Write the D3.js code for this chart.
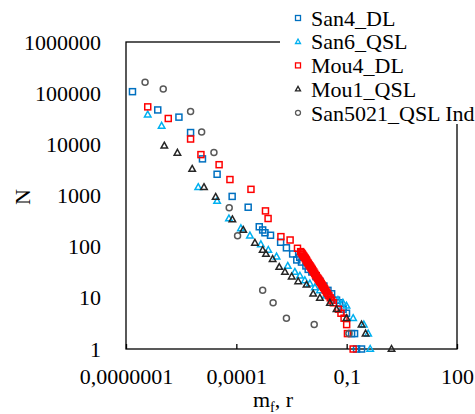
<!DOCTYPE html>
<meta charset="utf-8">
<style>
    body { margin: 0; background: #fff; }
    text { font-family: "Liberation Serif", "Times New Roman", serif; fill: #000; }
</style>
<body>
<svg width="475" height="414"></svg>
<script src="https://d3js.org/d3.v7.min.js"></script>
<script>

    // [m_f or r, N]
    var san4DL = [
        [1.5e-7, 107000], [7.3e-7, 47000], [2.75e-6, 34000], [5.7e-6, 17000], [1.2e-5, 5200],
        [3.0e-5, 2600], [7.7e-5, 960], [2.1e-4, 590], [4.2e-4, 245], [5.2e-4, 212], [6.0e-4, 187],
        [8.5e-4, 167], [1.6e-3, 122], [2.3e-3, 95], [3.4e-3, 72], [4.4e-3, 55], [5.3e-3, 62],
        [5.9e-3, 50], [7.8e-3, 42], [9.0e-3, 36], [0.0113, 32], [0.0146, 26], [0.0187, 21],
        [0.024, 17], [0.031, 14], [0.039, 12], [0.053, 9], [0.065, 8], [0.080, 6], [0.099, 5],
        [0.136, 2], [0.164, 2], [0.186, 1], [0.254, 1]
    ];
    var san6QSL = [
        [3.9e-7, 38000], [9.3e-7, 23000], [9.2e-6, 1450], [3.0e-5, 780], [6.3e-5, 355],
        [1.33e-4, 228], [2.34e-4, 164], [4.65e-4, 111], [7.4e-4, 86], [1.24e-3, 64], [2.5e-3, 42],
        [3.9e-3, 32], [5.35e-3, 27], [7.3e-3, 22], [0.010, 19], [0.0137, 16], [0.0187, 14],
        [0.027, 11], [0.040, 10], [0.058, 9], [0.079, 8], [0.099, 7], [0.150, 4], [0.293, 3],
        [0.384, 2], [0.436, 1]
    ];
    var mou4DL = [
        [3.9e-7, 54000], [1.41e-6, 32000], [5.7e-6, 12700], [1.09e-5, 6300], [3.4e-5, 4000],
        [6.7e-5, 2050], [2.5e-4, 1320], [6.2e-4, 500], [7.3e-4, 355], [1.63e-3, 157], [2.9e-3, 135],
        [4.6e-3, 93], [5.6e-3, 80], [5.9e-3, 76], [6.2e-3, 72], [6.4e-3, 70], [6.7e-3, 66],
        [6.9e-3, 64], [7.3e-3, 61], [7.6e-3, 58], [8.0e-3, 55], [8.3e-3, 52], [8.7e-3, 49],
        [9.1e-3, 47], [9.6e-3, 44], [0.0101, 42], [0.0105, 40], [0.011, 38], [0.0116, 36],
        [0.0121, 34], [0.0128, 32], [0.0135, 30], [0.0142, 28], [0.0149, 27], [0.0157, 25],
        [0.0165, 24], [0.0171, 23], [0.0178, 22], [0.0186, 21], [0.0194, 20], [0.0203, 19],
        [0.0212, 18], [0.0224, 17], [0.0236, 16], [0.025, 15], [0.0265, 14],
        [0.0283, 13], [0.0304, 12], [0.0328, 11], [0.0357, 10], [0.0392, 9], [0.0434, 8],
        [0.060, 6], [0.070, 5], [0.085, 4], [0.10, 3], [0.105, 2], [0.15, 1]
    ];
    var mou1QSL = [
        [1.1e-6, 9400], [2.5e-6, 6800], [6.3e-6, 3300], [1.32e-5, 1450], [2.74e-5, 935],
        [7.8e-5, 340], [1.54e-4, 212], [3.2e-4, 119], [5.2e-4, 86], [6.4e-4, 72], [9.7e-4, 57],
        [1.47e-3, 40], [2.1e-3, 32], [3.2e-3, 26], [4.8e-3, 21], [8.1e-3, 18], [0.0123, 12],
        [0.0187, 10], [0.035, 8], [0.053, 6], [0.099, 4], [0.254, 3], [0.327, 2], [1.66, 1]
    ];
    var san5021QSLInd = [
        [3.3e-7, 163000], [1.03e-6, 120000], [5.7e-6, 44000], [1.14e-5, 17400], [2.46e-5, 6900],
        [6.4e-5, 577], [1.08e-4, 164], [5.2e-4, 14], [1.0e-3, 8], [2.3e-3, 4], [0.0131, 3], [0.115, 2]
    ];

    var xTicks = [1e-7, 1e-4, 0.1, 100];
    var yTicks = [1, 10, 100, 1000, 10000, 100000, 1000000];

    var series = [
        { name: "San4_DL", data: san4DL, shape: "square", color: "#0070C0" },
        { name: "San6_QSL", data: san6QSL, shape: "triangle", color: "#00B0F0" },
        { name: "Mou4_DL", data: mou4DL, shape: "square", color: "#FF0000" },
        { name: "Mou1_QSL", data: mou1QSL, shape: "triangle", color: "#262626" },
        { name: "San5021_QSL Ind", data: san5021QSLInd, shape: "circle", color: "#595959" }
    ];

    var svg = d3.select("svg");
    var plotLeft = 126, plotRight = 457, plotTop = 42, plotBottom = 349;

    var x = d3.scaleLog().domain([1e-7, 100]).range([plotLeft, plotRight]);
    var y = d3.scaleLog().domain([1, 1e6]).range([plotBottom, plotTop]);

    function marker(g, shape, size) {
        if (shape == "square") {
            g.append("rect").attr("x", -size / 2).attr("y", -size / 2)
                .attr("width", size).attr("height", size);
        } else if (shape == "triangle") {
            var h = size * 0.9;
            g.append("path").attr("d", "M0," + (-h * 0.6) + "L" + (size / 2) + "," + (h * 0.4) +
                "L" + (-size / 2) + "," + (h * 0.4) + "Z");
        } else {
            g.append("circle").attr("r", size / 2);
        }
    }

    // frame
    svg.append("rect")
        .attr("x", plotLeft).attr("y", plotTop)
        .attr("width", plotRight - plotLeft).attr("height", plotBottom - plotTop)
        .attr("fill", "none").attr("stroke", "#000").attr("stroke-width", 1.3);

    // x axis (inner ticks only)
    var fmt = function (d) {
        return d >= 1 ? String(d) : d.toFixed(Math.round(-Math.log10(d))).replace(".", ",");
    };
    var xAxis = svg.append("g")
        .attr("transform", "translate(0," + plotBottom + ")")
        .call(d3.axisBottom(x).tickValues(xTicks).tickSize(-5).tickPadding(19).tickFormat(fmt));
    xAxis.select(".domain").remove();
    xAxis.selectAll("line").attr("stroke", "#000").attr("stroke-width", 1.3);
    xAxis.selectAll("text").attr("font-size", 22).attr("font-family", "Liberation Serif");

    var yAxis = svg.append("g")
        .attr("transform", "translate(" + plotLeft + ",0)")
        .call(d3.axisLeft(y).tickValues(yTicks).tickSize(0).tickPadding(25).tickFormat(d3.format("d")));
    yAxis.select(".domain").remove();
    yAxis.selectAll("text").attr("font-size", 22).attr("font-family", "Liberation Serif");

    // points
    series.forEach(function (s) {
        var g = svg.append("g")
            .attr("fill", "none")
            .attr("stroke", s.color)
            .attr("stroke-width", 1.5);
        g.selectAll("g")
            .data(s.data)
            .enter().append("g")
            .attr("transform", function (d) {
                return "translate(" + x(d[0]) + "," + y(d[1]) + ")";
            })
            .each(function () { marker(d3.select(this), s.shape, s.shape == "triangle" ? 6.5 : 6); });
    });

    // legend, drawn over the frame corner
    var legend = svg.append("g");
    legend.append("rect")
        .attr("x", 280).attr("y", 0).attr("width", 195).attr("height", 124)
        .attr("fill", "#fff");
    series.forEach(function (s, i) {
        var row = legend.append("g").attr("transform", "translate(298," + (18 + i * 23.7) + ")");
        var m = row.append("g").attr("fill", "none").attr("stroke", s.color).attr("stroke-width", 1.3);
        marker(m, s.shape, 5);
        row.append("text")
            .attr("x", 13).attr("dy", "0.35em")
            .attr("font-size", 22)
            .text(s.name);
    });

    // axis titles
    var xt = svg.append("text")
        .attr("x", 273).attr("y", 407)
        .attr("text-anchor", "middle")
        .attr("font-size", 22);
    xt.append("tspan").text("m");
    xt.append("tspan").attr("font-size", 14).attr("dy", 5).text("f");
    xt.append("tspan").attr("dy", -5).text(", r");

    svg.append("text")
        .attr("transform", "translate(22,197) rotate(-90)")
        .attr("text-anchor", "middle")
        .attr("dy", "0.35em")
        .attr("font-size", 22)
        .text("N");

</script>
</body>
